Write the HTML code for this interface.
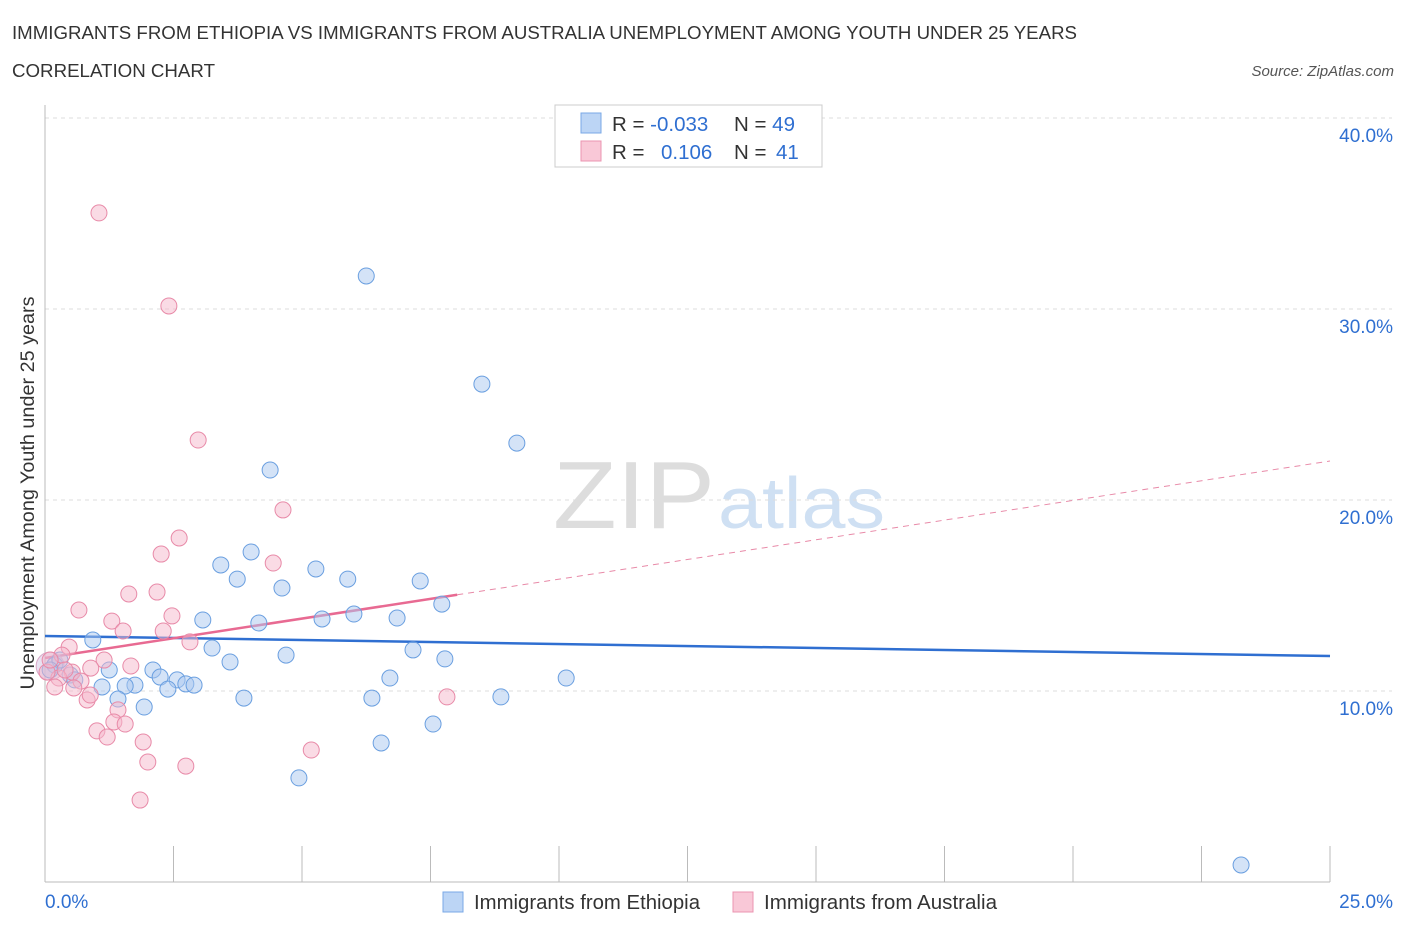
<!DOCTYPE html>
<html><head><meta charset="utf-8"><style>
body{margin:0;background:#fff;font-family:"Liberation Sans",sans-serif;}
svg text{font-family:"Liberation Sans",sans-serif;}
</style></head><body>
<svg id="chart" width="1406" height="930" viewBox="0 0 1406 930">
<text x="12" y="39" font-size="18" fill="#333" textLength="1065" lengthAdjust="spacingAndGlyphs">IMMIGRANTS FROM ETHIOPIA VS IMMIGRANTS FROM AUSTRALIA UNEMPLOYMENT AMONG YOUTH UNDER 25 YEARS</text>
<text x="12" y="77" font-size="18" fill="#333" textLength="203" lengthAdjust="spacingAndGlyphs">CORRELATION CHART</text>
<text x="1394" y="76" font-size="15" fill="#555" font-style="italic" text-anchor="end">Source: ZipAtlas.com</text>
<g>
<text x="553" y="528" font-size="96" fill="#ddd" font-family="Liberation Serif, serif" textLength="162" lengthAdjust="spacingAndGlyphs">ZIP</text>
<text x="718" y="528" font-size="72" fill="#cfe0f3" textLength="167" lengthAdjust="spacingAndGlyphs">atlas</text>
</g>
<g id="grid"></g>
<g id="axes"></g>
<text transform="translate(34,493) rotate(-90)" font-size="19" fill="#333" text-anchor="middle" textLength="393" lengthAdjust="spacingAndGlyphs">Unemployment Among Youth under 25 years</text>
<g id="lines"></g>
<g id="points"></g>
<g>
<rect x="555" y="105" width="267" height="62" fill="#fff" stroke="#ccc"/>
<rect x="581" y="113" width="20" height="20" fill="#bcd5f5" stroke="#7aa8e6"/>
<rect x="581" y="141" width="20" height="20" fill="#f9c8d7" stroke="#eb94b0"/>
<text x="612" y="131" font-size="20.5" fill="#333">R = <tspan fill="#2f6fd1">-0.033</tspan></text>
<text x="734" y="131" font-size="20.5" fill="#333">N = <tspan fill="#2f6fd1">49</tspan></text>
<text x="612" y="159" font-size="20.5" fill="#333">R = <tspan fill="#2f6fd1" x="661">0.106</tspan></text>
<text x="734" y="159" font-size="20.5" fill="#333">N = <tspan fill="#2f6fd1" x="776">41</tspan></text>
</g>
<g>
<rect x="443" y="892" width="20" height="20" fill="#bcd5f5" stroke="#7aa8e6"/>
<text x="474" y="909" font-size="20" fill="#333" textLength="226" lengthAdjust="spacingAndGlyphs">Immigrants from Ethiopia</text>
<rect x="733" y="892" width="20" height="20" fill="#f9c8d7" stroke="#eb94b0"/>
<text x="764" y="909" font-size="20" fill="#333" textLength="233" lengthAdjust="spacingAndGlyphs">Immigrants from Australia</text>
</g>
</svg>
<script>
const yTicks=[10,20,30,40];
const yTickLabels=["10.0%","20.0%","30.0%","40.0%"];
const xMin=0, xMax=25;
const xTickLabels=["0.0%","25.0%"];
const blueX=[6.25,8.50,9.18,4.38,4.01,3.42,3.74,5.27,5.89,7.30,4.61,7.72,6.01,5.39,6.85,3.07,4.16,0.93,3.25,4.69,7.16,7.78,3.60,2.10,1.25,2.24,2.57,2.74,1.75,1.11,1.56,2.90,2.39,6.71,10.14,3.87,6.36,8.87,1.42,1.93,6.54,7.55,4.94,23.27,0.19,0.29,0.49,0.10,0.58];
const blueY=[31.73,26.07,22.98,21.57,17.28,16.60,15.86,16.39,15.86,15.76,15.39,14.55,14.03,13.77,13.82,13.72,13.56,12.67,12.25,11.88,12.15,11.68,11.52,11.10,11.10,10.73,10.58,10.37,10.31,10.21,10.26,10.31,10.10,10.68,10.68,9.63,9.63,9.69,9.58,9.16,7.28,8.27,5.45,0.89,11.36,11.62,10.84,11.10,10.58];
const pinkX=[1.05,2.41,2.98,4.63,2.61,2.26,4.44,1.63,2.18,0.66,2.47,1.30,1.52,2.30,2.82,0.47,1.15,0.89,1.67,0.53,0.70,0.27,0.04,0.19,0.56,0.82,1.42,1.34,1.56,1.01,1.21,1.91,2.00,2.74,5.18,1.85,7.82,0.33,0.10,0.39,0.88];
const pinkY=[35.03,30.16,23.14,19.48,18.01,17.17,16.70,15.08,15.18,14.24,13.93,13.66,13.14,13.14,12.57,12.30,11.62,11.20,11.31,10.99,10.52,10.68,10.99,10.21,10.16,9.53,9.01,8.38,8.27,7.91,7.59,7.33,6.28,6.07,6.91,4.29,9.69,11.88,11.62,11.10,9.79];
const blueTrend=[12.88,11.83];
const pinkTrend=[11.73,22.04];
const pinkSolidEnd=8.02;

const NS="http://www.w3.org/2000/svg";
const X0=45,X1=1330,Y0=882,PXPER=19.1;
const sx=v=>X0+(v-xMin)/(xMax-xMin)*(X1-X0);
const sy=v=>Y0-v*PXPER;
function mk(tag,attrs,parent){const e=document.createElementNS(NS,tag);for(const k in attrs)e.setAttribute(k,attrs[k]);parent.appendChild(e);return e;}
const grid=document.getElementById('grid'),axes=document.getElementById('axes');
yTicks.forEach((t,i)=>{
 const l=mk('line',{x1:X0,x2:1392,y1:sy(t),y2:sy(t),stroke:'#ddd','stroke-dasharray':'4,4'},grid);
 
 
 const tx=mk('text',{x:1393,y:sy(t)+24,'font-size':19,fill:'#2f6fd1','text-anchor':'end'},axes);
 tx.textContent=yTickLabels[i];
 
 
});
const ax=mk('line',{x1:X0,x2:X0,y1:105,y2:Y0,stroke:'#bbb'},axes);


const bx=mk('line',{x1:X0,x2:X1,y1:Y0,y2:Y0,stroke:'#bbb'},axes);


for(let i=0;i<=10;i++){const v=xMin+i*(xMax-xMin)/10;
 const t=mk('line',{x1:sx(v),x2:sx(v),y1:Y0,y2:Y0-36,stroke:'#bbb'},axes);
 
 }
const xl0=mk('text',{x:45,y:908,'font-size':19,fill:'#2f6fd1'},axes);xl0.textContent=xTickLabels[0];


const xl1=mk('text',{x:1393,y:908,'font-size':19,fill:'#2f6fd1','text-anchor':'end'},axes);xl1.textContent=xTickLabels[1];


const pts=document.getElementById('points');
const big=mk('circle',{cx:sx(0.1),cy:sy(11.3),r:14,fill:'rgba(200,180,220,0.4)',stroke:'#d8a8c8'},pts);


blueX.forEach((x,i)=>{const c=mk('circle',{cx:sx(x),cy:sy(blueY[i]),r:8,fill:'rgba(169,200,240,0.5)',stroke:'#6a9fe0','stroke-width':1},pts);
 
 });
pinkX.forEach((x,i)=>{const c=mk('circle',{cx:sx(x),cy:sy(pinkY[i]),r:8,fill:'rgba(245,184,203,0.5)',stroke:'#e88aa8','stroke-width':1},pts);
 
 });
const lines=document.getElementById('lines');
const bl=mk('line',{x1:sx(xMin),y1:sy(blueTrend[0]),x2:sx(xMax),y2:sy(blueTrend[1]),stroke:'#2f6fd1','stroke-width':2.5},lines);


const pAt=x=>pinkTrend[0]+(pinkTrend[1]-pinkTrend[0])*(x-xMin)/(xMax-xMin);
const pl=mk('line',{x1:sx(xMin),y1:sy(pinkTrend[0]),x2:sx(pinkSolidEnd),y2:sy(pAt(pinkSolidEnd)),stroke:'#e86a92','stroke-width':2.5},lines);


const pd=mk('line',{x1:sx(pinkSolidEnd),y1:sy(pAt(pinkSolidEnd)),x2:sx(xMax),y2:sy(pinkTrend[1]),stroke:'#e88aa8','stroke-width':1,'stroke-dasharray':'6,5'},lines);


</script>
</body></html>
